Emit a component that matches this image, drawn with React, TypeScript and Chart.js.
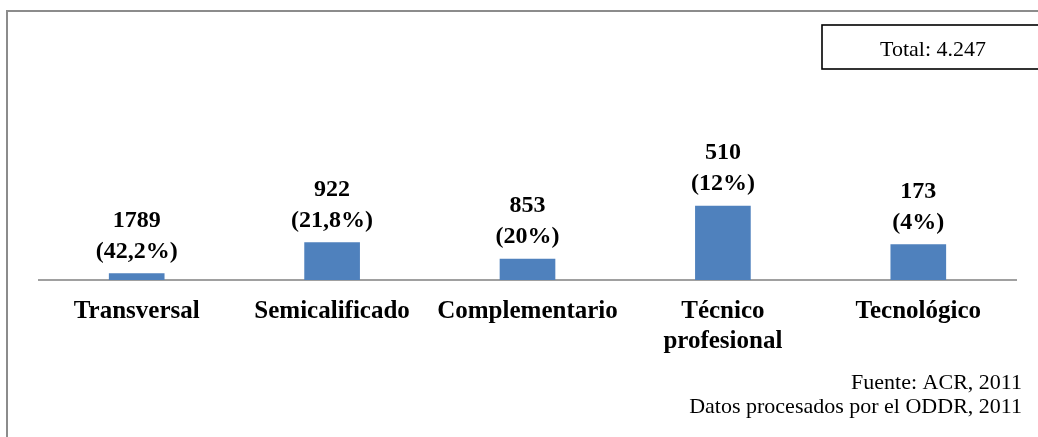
import React, { useEffect, useRef } from "react";
import { Chart, registerables } from "chart.js";

Chart.register(...registerables);

const categories: (string | string[])[] = [
  "Transversal",
  "Semicalificado",
  "Complementario",
  ["Técnico", "profesional"],
  "Tecnológico",
];
// Bar heights as drawn in the picture (arbitrary units)
const barHeights = [6.5, 37.5, 21, 74, 35.5];
const countLabels = ["1789", "922", "853", "510", "173"];
const percentLabels = ["(42,2%)", "(21,8%)", "(20%)", "(12%)", "(4%)"];
const totalLabel = "Total: 4.247";
const sourceLines = ["Fuente: ACR, 2011", "Datos procesados por el ODDR, 2011"];

const FONT = '"Liberation Serif", "Times New Roman", serif';

const overlayPlugin = {
  id: "overlay",
  afterDatasetsDraw(chart: any) {
    const ctx = chart.ctx as CanvasRenderingContext2D;
    const meta = chart.getDatasetMeta(0);
    ctx.save();
    ctx.fillStyle = "#000";
    ctx.textAlign = "center";
    ctx.textBaseline = "alphabetic";
    ctx.font = `bold 24px ${FONT}`;
    meta.data.forEach((bar: any, i: number) => {
      const x = bar.x;
      const y = bar.y;
      ctx.fillText(percentLabels[i], x, y - 16);
      ctx.fillText(countLabels[i], x, y - 47);
    });
    ctx.restore();
  },
  afterDraw(chart: any) {
    const ctx = chart.ctx as CanvasRenderingContext2D;
    const W = chart.width;
    const H = chart.height;
    ctx.save();
    // outer frame (top and left edges visible)
    ctx.strokeStyle = "#8c8c8c";
    ctx.lineWidth = 2;
    ctx.beginPath();
    ctx.moveTo(7, H + 2);
    ctx.lineTo(7, 11);
    ctx.lineTo(W + 2, 11);
    ctx.stroke();

    // total box
    ctx.strokeStyle = "#000";
    ctx.lineWidth = 1.6;
    ctx.strokeRect(822, 25, 230, 44);
    ctx.fillStyle = "#000";
    ctx.font = `22px ${FONT}`;
    ctx.textAlign = "center";
    ctx.textBaseline = "alphabetic";
    ctx.fillText(totalLabel, 933, 56);

    // source lines
    ctx.textAlign = "right";
    ctx.font = `22px ${FONT}`;
    ctx.fillText(sourceLines[0], 1022, 389);
    ctx.fillText(sourceLines[1], 1022, 413);
    ctx.restore();
  },
};

export default function App() {
  const ref = useRef<HTMLCanvasElement | null>(null);
  useEffect(() => {
    if (!ref.current) return;
    const chart = new Chart(ref.current, {
      type: "bar",
      data: {
        labels: categories,
        datasets: [
          {
            data: barHeights,
            backgroundColor: "#4F81BD",
            borderWidth: 0,
            barThickness: 55,
          },
        ],
      },
      options: {
        animation: false,
        responsive: false,
        maintainAspectRatio: false,
        layout: { padding: { top: 130, left: 39, right: 22, bottom: 0 } },
        plugins: {
          legend: { display: false },
          tooltip: { enabled: false },
          title: { display: false },
        },
        scales: {
          x: {
            grid: { display: false, drawTicks: false },
            border: { display: true, color: "#a0a0a0", width: 2 },
            ticks: {
              color: "#000",
              padding: 17,
              maxRotation: 0,
              autoSkip: false,
              font: { family: FONT, size: 25, weight: "bold", lineHeight: 1.2 },
            },
            afterFit: (scale: any) => {
              scale.height = 157;
            },
          },
          y: {
            display: false,
            min: 0,
            max: 150,
          },
        },
      },
      plugins: [overlayPlugin],
    });
    return () => chart.destroy();
  }, []);
  return (
    <div
      style={{
        position: "fixed",
        left: 0,
        top: 0,
        width: 1038,
        height: 437,
        background: "#fff",
      }}
    >
      <canvas ref={ref} width={1038} height={437} style={{ width: 1038, height: 437 }} />
    </div>
  );
}
